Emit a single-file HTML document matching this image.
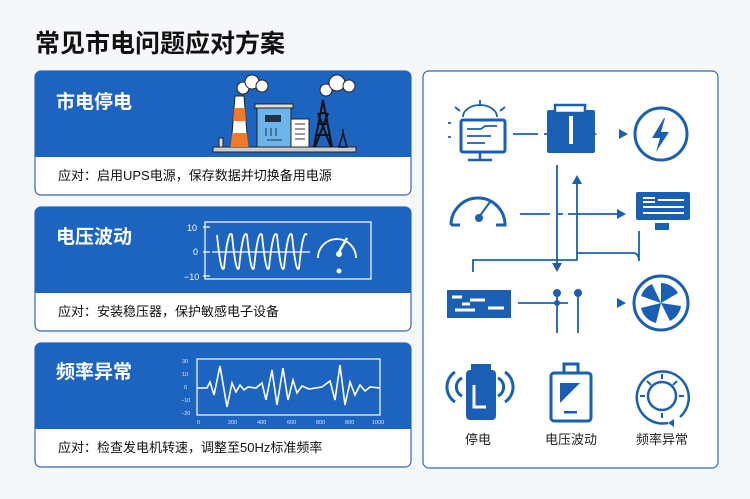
<!DOCTYPE html>
<html><head><meta charset="utf-8"><style>
body{margin:0;width:750px;height:499px;background:#f4f6fa;overflow:hidden;font-family:"Liberation Sans","Noto Sans CJK SC",sans-serif}
svg{position:absolute;left:0;top:0}
</style></head><body>
<svg width="750" height="499" viewBox="0 0 750 499" font-family="Liberation Sans, Noto Sans CJK SC, sans-serif">
<rect width="750" height="499" fill="#f5f7fb"/>
<text x="35" y="52" font-size="25" font-weight="bold" fill="#111">常见市电问题应对方案</text>

<g>
<rect x="35" y="71" width="376" height="124" rx="6" fill="#fff" stroke="#2f68b8" stroke-width="1.2"/>
<path d="M35 77 a6 6 0 0 1 6 -6 h364 a6 6 0 0 1 6 6 v80 h-376z" fill="#1c64c0"/>
<text x="56" y="108" font-size="19" font-weight="bold" fill="#fff">市电停电</text>
<text x="58" y="180" font-size="13" fill="#111">应对：启用UPS电源，保存数据并切换备用电源</text>

<rect x="35" y="207" width="376" height="124" rx="6" fill="#fff" stroke="#2f68b8" stroke-width="1.2"/>
<path d="M35 213 a6 6 0 0 1 6 -6 h364 a6 6 0 0 1 6 6 v80 h-376z" fill="#1c64c0"/>
<text x="56" y="243" font-size="19" font-weight="bold" fill="#fff">电压波动</text>
<text x="58" y="316" font-size="13" fill="#111">应对：安装稳压器，保护敏感电子设备</text>

<rect x="35" y="343" width="376" height="124" rx="6" fill="#fff" stroke="#2f68b8" stroke-width="1.2"/>
<path d="M35 349 a6 6 0 0 1 6 -6 h364 a6 6 0 0 1 6 6 v80 h-376z" fill="#1c64c0"/>
<text x="56" y="378" font-size="19" font-weight="bold" fill="#fff">频率异常</text>
<text x="58" y="452" font-size="13" fill="#111">应对：检查发电机转速，调整至50Hz标准频率</text>
</g>

<!-- factory -->
<g>
<rect x="213" y="147" width="143" height="5" fill="#ccc" stroke="#222"/>
<path d="M231 147 L235 96 h9 L248 147z" fill="#fff" stroke="#222"/>
<path d="M232 133 h15 l1.5 14 h-18z M234 108 h11 l1 13 h-13z" fill="#f07a28"/>
<rect x="219" y="138" width="4" height="9" fill="#ddd" stroke="#222"/>
<rect x="257" y="107" width="34" height="40" fill="#6db4ea" stroke="#222"/>
<rect x="255" y="104" width="38" height="4" fill="#ddd" stroke="#222"/>
<rect x="265" y="115" width="16" height="7" fill="#234"/>
<path d="M266 128 v8 M271 128 v8 M276 128 v8 M267 140 h15" stroke="#234" stroke-width="1"/>
<rect x="291" y="119" width="18" height="28" fill="#fff" stroke="#222"/>
<path d="M295 124 h10 M295 129 h10 M295 134 h10 M295 139 h10" stroke="#333" stroke-width="1"/>
<path d="M314 147 L323 100 L332 147 M316 135 h14 M318 124 h10 M320 113 h6 M315 147 L328 113 M331 147 L318 113" fill="none" stroke="#111" stroke-width="2"/>
<path d="M339 147 l4 -14 4 14z M343 133 v-4" stroke="#111" fill="none" stroke-width="1.5"/>
<g fill="#fff" stroke="#222">
<circle cx="243" cy="88" r="6"/><circle cx="252" cy="82" r="7"/><circle cx="262" cy="86" r="6"/>
<circle cx="326" cy="90" r="6"/><circle cx="337" cy="83" r="8"/><circle cx="349" cy="86" r="6"/>
</g>
</g>

<!-- chart 2 -->
<g stroke="#fff" fill="none" stroke-width="1.2">
<rect x="205" y="222" width="166" height="57"/>
<line x1="203" y1="227" x2="210" y2="227"/><line x1="203" y1="252" x2="210" y2="252"/><line x1="203" y1="276" x2="210" y2="276"/>
<line x1="212" y1="252" x2="310" y2="252"/>
<path d="M217 235 Q221 275 224 268 Q228 228 232 235 Q236 275 239 268 Q243 228 247 235 Q251 275 254 268 Q258 228 262 235 Q266 275 269 268 Q273 228 277 235 Q281 275 284 268 Q288 228 292 235 Q296 275 299 268 Q303 228 307 235" stroke-width="1.8"/>
<path d="M318 258 a19 19 0 1 1 38 0" stroke-width="1.8"/>
<line x1="339" y1="252" x2="347" y2="238" stroke-width="2.5"/>
</g>
<g fill="#fff" font-size="9">
<text x="187" y="231">10</text><text x="193" y="255">0</text><text x="184" y="280">−10</text>
<circle cx="339" cy="254" r="3"/><circle cx="339" cy="271" r="2.5"/>
</g>

<!-- chart 3 -->
<g stroke="#fff" fill="none">
<rect x="197" y="359" width="183" height="56" stroke-width="1.2"/>
<path d="M197 388 H207 L210 382 L214 395 L220 366 L227 407 L232 383 L236 392 L240 385 L244 390 L248 387 L256 388 L262 383 L266 400 L272 370 L277 405 L283 368 L288 400 L293 380 L297 393 L302 386 L309 389 L322 387 L330 381 L335 400 L340 365 L345 405 L350 382 L355 395 L360 385 L365 391 L370 387 L380 388" stroke-width="1.6"/>
</g>
<g fill="#d6e6fa" font-size="5.5">
<text x="182" y="363">30</text><text x="182" y="376">10</text><text x="184" y="389">0</text><text x="181" y="402">−10</text><text x="181" y="415">−20</text>
<text x="197" y="424">0</text><text x="228" y="424">200</text><text x="257" y="424">400</text><text x="287" y="424">600</text><text x="316" y="424">800</text><text x="345" y="424">800</text><text x="372" y="424">1000</text>
</g>

<!-- right panel -->
<rect x="423" y="71" width="295" height="397" rx="6" fill="#fff" stroke="#2f68b8" stroke-width="1.2"/>
<g stroke="#1a5fb4" fill="none" stroke-width="2.5">
<rect x="461" y="120" width="44" height="32" rx="2" stroke-width="3"/>
<line x1="480" y1="152" x2="480" y2="159"/><line x1="468" y1="160" x2="492" y2="160"/>
<path d="M467 129 h14 l4 -3 h12 M467 136 h24 M467 143 h18" stroke-width="1.8"/>
<path d="M463 117 a17 12 0 0 1 34 0" stroke-width="1.8"/>
<path d="M480 100 v6 M455 107 l5 4 M505 107 l-5 4 M448 123 h3 M448 137 h3" stroke-width="1.8"/>
<path d="M513 134 h25 M544 134 h25" stroke-width="1.8"/>
<circle cx="661" cy="134" r="26" stroke-width="3"/>
<path d="M451 225 a27 27 0 1 1 54 0 h-9 M460 225 h-9" stroke-width="3"/>
<line x1="479" y1="217" x2="490" y2="202" stroke-width="2"/>
<path d="M520 214 h30 M558 214 h5 M568 214 h50" stroke-width="1.8"/>
<path d="M557 165 v100 M577 178 v82 h-59 h-45 v12 M577 253 h56 q6 0 6 8 v-30" stroke-width="1.8"/>
<path d="M518 303 h50" stroke-width="1.8"/>
<path d="M557 293 v40 M578 293 v40" stroke-width="1.8"/>
<circle cx="661" cy="303" r="27" stroke-width="3"/>
<path d="M455 372 a18 18 0 0 0 0 30 M462 378 a10 10 0 0 0 0 18 M505 372 a18 18 0 0 1 0 30 M498 378 a10 10 0 0 1 0 18" stroke-width="3"/>
<rect x="551" y="373" width="40" height="48" rx="3" stroke-width="3"/>
<path d="M564 373 v-9 h14 v9" stroke-width="3"/>
<path d="M668 423 a26 26 0 1 1 12 -6" stroke-width="2.5"/>
<circle cx="662" cy="396" r="14" stroke-width="2.5"/>
<path d="M662 374 v5 M662 413 v5 M640 396 h5 M679 396 h5 M647 381 l4 4 M677 381 l-4 4" stroke-width="2"/>
</g>
<g fill="#1a5fb4">
<path d="M628 134 l-9 -5 v10z M597 134 l-9 -5 v10z M626 214 l-9 -5 v10z M626 303 l-9 -5 v10z M557 272 l-5 -9 h10z M577 175 l-5 9 h10z M668 423 l6 -4 v8z"/>
<rect x="547" y="110" width="48" height="43" rx="2"/>
<rect x="555" y="105" width="30" height="8" fill="#fff" stroke="#1a5fb4" stroke-width="2.5"/>
<rect x="569" y="116" width="4" height="28" fill="#fff"/>
<path d="M664 118 l-12 20 h8 l-4 14 l13 -20 h-8 l4 -14z"/>
<circle cx="479" cy="218" r="4"/>
<rect x="636" y="192" width="54" height="28" rx="2"/>
<rect x="655" y="223" width="14" height="7"/>
<path d="M643 198 h12 M643 202 h12 M658 200 h26 M643 207 h41 M643 213 h41" stroke="#fff" stroke-width="2"/>
<rect x="447" y="290" width="64" height="28"/>
<path d="M452 297 h10 M470 300 h15 M455 310 h20 M488 308 h16 M462 304 h8" stroke="#fff" stroke-width="3"/>
<circle cx="557" cy="293" r="4"/><circle cx="578" cy="293" r="4"/><circle cx="557" cy="303" r="3"/>
<path d="M661 303 L661 283 A20 20 0 0 1 678 293z M661 303 L681 306 A20 20 0 0 1 670 321z M661 303 L656 323 A20 20 0 0 1 641 308z M661 303 L641 296 A20 20 0 0 1 652 284z"/>
<rect x="466" y="370" width="30" height="50" rx="4"/>
<rect x="471" y="364" width="20" height="6"/>
<path d="M474 385 v22 h12" stroke="#fff" stroke-width="3" fill="none"/>
<path d="M560 383 h20 l-20 20z"/>
<rect x="564" y="411" width="13" height="2.5"/>
<text x="478" y="444" font-size="13" fill="#222" text-anchor="middle">停电</text>
<text x="571" y="444" font-size="13" fill="#222" text-anchor="middle">电压波动</text>
<text x="662" y="444" font-size="13" fill="#222" text-anchor="middle">频率异常</text>
</g>
</svg>
</body></html>
